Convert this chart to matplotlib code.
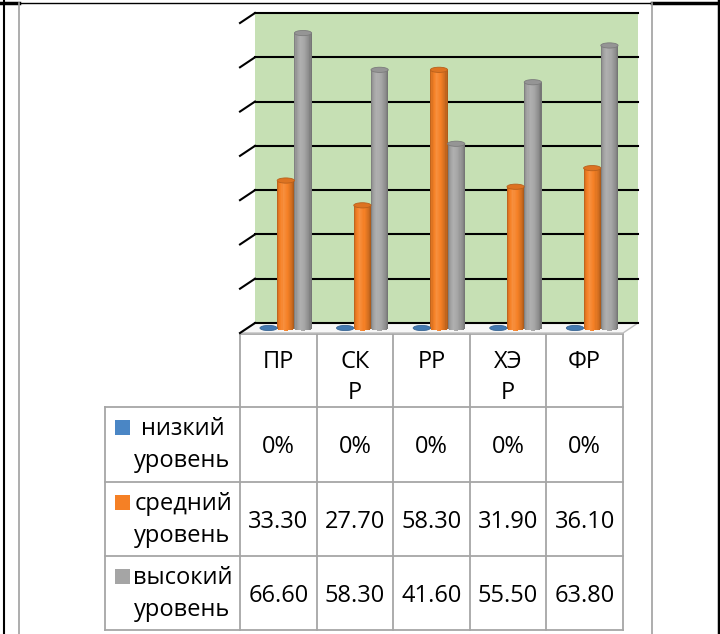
import numpy as np
import matplotlib.pyplot as plt
from matplotlib.patches import Ellipse, Rectangle, Polygon
from matplotlib.colors import to_rgb

plt.rcParams['font.family'] = ['Open Sans', 'DejaVu Sans']

# data
categories = ["ПР", "СКР", "РР", "ХЭР", "ФР"]
header_labels = ["ПР", "СК\nР", "РР", "ХЭ\nР", "ФР"]
series_names = ["низкий", "средний", "высокий"]
low = [0, 0, 0, 0, 0]
mid = [33.3, 27.7, 58.3, 31.9, 36.1]
high = [66.6, 58.3, 41.6, 55.5, 63.8]
y_ticks = [0, 10, 20, 30, 40, 50, 60, 70]

series = [low, mid, high]
colors = ["#4A86C5", "#F58025", "#A5A5A5"]
fmts = ["{:.0f}%", "{:.2f}", "{:.2f}"]

W, H = 720, 634
fig = plt.figure(figsize=(W / 100, H / 100), dpi=100)

# overlay in pixel coords for table and page lines
ov = fig.add_axes([0, 0, 1, 1])
ov.set_xlim(0, W)
ov.set_ylim(H, 0)
ov.axis('off')

# back wall of the chart
wall_l, wall_r, wall_t, wall_b = 255, 638, 13, 323
depth_x, depth_y = 15, 10
ax = fig.add_axes([wall_l / W, 1 - wall_b / H, (wall_r - wall_l) / W, (wall_b - wall_t) / H])
ax.set_xlim(-0.5, len(categories) - 0.5)
ax.set_ylim(0, 70)
ax.set_facecolor("#C6E0B4")
for s in ax.spines.values():
    s.set_visible(False)
ax.set_xticks([])
ax.set_yticks([])

# pixel -> data units
px_x = len(categories) / (wall_r - wall_l)
px_y = 70 / (wall_b - wall_t)
DX = -depth_x * px_x
DY = -depth_y * px_y

# floor
x0, x1 = -0.5, len(categories) - 0.5
floor = Polygon([(x0, 0), (x1, 0), (x1 + DX, DY), (x0 + DX, DY)], closed=True,
                facecolor="#F7F7F7", edgecolor="#BFBFBF", lw=1, clip_on=False, zorder=1)
ax.add_patch(floor)

for v in y_ticks:
    ax.plot([x0, x1], [v, v], color="black", lw=1.5, clip_on=False, zorder=2)
    ax.plot([x0 + DX, x0], [v + DY, v], color="black", lw=1.5, clip_on=False, zorder=2)


def shade(color, f):
    rgb = np.array(to_rgb(color))
    if f >= 1:
        return tuple(rgb + (1 - rgb) * (f - 1))
    return tuple(rgb * f)


# cylinders
bw = 0.225
e = 2.6 * px_y
n_strips = 16
stops_t = [0, 0.1, 0.35, 0.6, 0.85, 1.0]
stops_f = [0.72, 0.92, 1.12, 1.0, 0.85, 0.68]
xs = np.arange(len(categories)) + DX / 2
base = DY / 2
for k, (vals, col) in enumerate(zip(series, colors)):
    vals = np.array(vals, dtype=float)
    cx = xs + (k - 1) * bw
    if vals.max() > 0:
        for j in range(n_strips):
            tc = (j + 0.5) / n_strips
            r = np.sqrt(1 - (2 * tc - 1) ** 2)
            f = np.interp(tc, stops_t, stops_f)
            ax.bar(cx - bw / 2 + j * bw / n_strips, vals + e * r, width=bw / n_strips * 1.05,
                   bottom=base - e * r, align='edge', color=shade(col, f), lw=0,
                   clip_on=False, zorder=3)
    for x, v in zip(cx, vals):
        top = Ellipse((x, base + v), bw, 2 * e, facecolor=shade(col, 0.9),
                      edgecolor=shade(col, 0.75), lw=0.6, clip_on=False, zorder=4)
        ax.add_patch(top)

# data table
colw = (wall_r - wall_l) / len(categories)
tab_l = wall_l - depth_x
lab_l = 105
row_y = [334, 407, 482, 556, 630]
line_c = "#A6A6A6"
col_edges = [tab_l + i * colw for i in range(len(categories) + 1)]
tab_r = col_edges[-1]

ov.plot([tab_l, tab_r], [row_y[0], row_y[0]], color=line_c, lw=1.3)
for y in row_y[1:]:
    ov.plot([lab_l, tab_r], [y, y], color=line_c, lw=1.3)
for x in col_edges:
    ov.plot([x, x], [row_y[0], row_y[-1]], color=line_c, lw=1.3)
ov.plot([lab_l, lab_l], [row_y[1], row_y[-1]], color=line_c, lw=1.3)

fs = 17
for i, lab in enumerate(header_labels):
    cxp = tab_l + colw * (i + 0.5)
    for li, part in enumerate(lab.split("\n")):
        ov.text(cxp, 368 + li * 31, part, ha='center', va='baseline', fontsize=fs)

for r, (name, vals, col, fm) in enumerate(zip(series_names, series, colors, fmts)):
    yc = (row_y[r + 1] + row_y[r + 2]) / 2
    ov.add_patch(Rectangle((115, yc - 9.5 - 15), 15, 15, facecolor=col, lw=0))
    ov.text(183, yc - 9.5, name, ha='center', va='baseline', fontsize=fs)
    ov.text(182, yc + 22.5, "уровень", ha='center', va='baseline', fontsize=fs)
    for i, v in enumerate(vals):
        ov.text(tab_l + colw * (i + 0.5), yc + 8.5, fm.format(v), ha='center',
                va='baseline', fontsize=fs)

# page borders
ov.plot([0, W], [3, 3], color="black", lw=1)
ov.plot([652, W], [2.5, 2.5], color="black", lw=2.5)
ov.plot([0, 19], [2.5, 2.5], color="black", lw=2.5)
ov.plot([4, 4], [0, H], color="black", lw=1.5)
ov.plot([19, 19], [3, H], color="#A0A0A0", lw=1.2)
ov.plot([652, 652], [3, H], color="#A0A0A0", lw=1.2)
ov.plot([718.5, 718.5], [0, H], color="black", lw=2.5)

fig.savefig("out.png", dpi=100)
